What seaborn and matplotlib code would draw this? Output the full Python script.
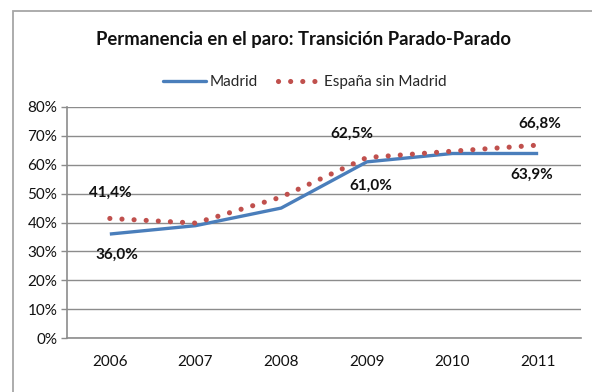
import matplotlib
matplotlib.use("Agg")
import matplotlib.pyplot as plt
from matplotlib.patches import Rectangle
from matplotlib.lines import Line2D
import seaborn as sns
import pandas as pd
import numpy as np

years = ["2006", "2007", "2008", "2009", "2010", "2011"]
madrid = [36.0, 38.9, 45.0, 61.0, 63.9, 63.9]
espana_sin_madrid = [41.4, 39.8, 48.8, 62.5, 64.7, 66.8]
y_ticks = [0, 10, 20, 30, 40, 50, 60, 70, 80]

# labelled points: index -> text offset in px
madrid_labels = {0: (7, -21), 3: (4, -24), 5: (-6, -21)}
espana_labels = {0: (0, 26), 3: (-15, 24), 5: (2, 21)}

sns.set_theme(style="white")
plt.rcParams["font.family"] = ["Lato", "DejaVu Sans"]

BLUE = "#4A7EBB"
RED = "#C0504D"
GRID = "#8C8C8C"
TXT = "#111111"

df = pd.DataFrame({
    "pos": np.arange(len(years)),
    "Madrid": madrid,
    "España sin Madrid": espana_sin_madrid,
})

fig = plt.figure(figsize=(5.92, 3.92), dpi=100)
W, H = 592, 392
ax = fig.add_axes([67 / W, (H - 338) / H, (581 - 67) / W, (338 - 107) / H])

sns.lineplot(data=df, x="pos", y="Madrid", ax=ax, color=BLUE, linewidth=2.4,
             solid_capstyle="butt", zorder=3)
sns.lineplot(data=df, x="pos", y="España sin Madrid", ax=ax, color=RED,
             linewidth=3.7, linestyle=(0, (0.01, 2.35)), dash_capstyle="round",
             zorder=4)

ax.set_xlim(-0.5, len(years) - 0.5)
ax.set_ylim(0, 80)
ax.set_yticks(y_ticks)
ax.set_yticklabels([f"{v}%" for v in y_ticks], fontsize=11, color=TXT)
ax.set_xticks(np.arange(-0.5, len(years), 1.0))
ax.set_xticklabels([])
ax.set_xticks(np.arange(len(years)), minor=True)
ax.set_xticklabels(years, minor=True, fontsize=11, color=TXT)
ax.tick_params(axis="x", which="major", length=4, width=1, color=GRID, direction="out")
ax.tick_params(axis="x", which="minor", length=0, pad=12)
ax.tick_params(axis="y", length=4, width=1, color=GRID, direction="out", pad=3, left=True)
ax.set_xlabel("")
ax.set_ylabel("")

ax.grid(axis="y", color=GRID, linewidth=1)
ax.set_axisbelow(True)
for s in ["top", "right"]:
    ax.spines[s].set_visible(False)
for s in ["left", "bottom"]:
    ax.spines[s].set_color(GRID)
    ax.spines[s].set_linewidth(1.2)

for i, (dx, dy) in madrid_labels.items():
    ax.annotate(f"{madrid[i]:.1f}%".replace(".", ","), (i, madrid[i]),
                xytext=(dx, dy), textcoords="offset pixels", ha="center", va="center",
                fontsize=11, fontweight="bold", color=TXT)
for i, (dx, dy) in espana_labels.items():
    ax.annotate(f"{espana_sin_madrid[i]:.1f}%".replace(".", ","), (i, espana_sin_madrid[i]),
                xytext=(dx, dy), textcoords="offset pixels", ha="center", va="center",
                fontsize=11, fontweight="bold", color=TXT)

# outer chart frame
fig.patches.append(Rectangle((13 / W, -0.1), 1.2, (H - 11) / H + 0.1,
                             transform=fig.transFigure, fill=False,
                             edgecolor="#A6A6A6", linewidth=1.3))

fig.text(303 / W, (H - 40) / H, "Permanencia en el paro: Transición Parado-Parado",
         ha="center", va="center", fontsize=13.3, fontweight="bold", color=TXT)

handles = [
    Line2D([], [], color=BLUE, linewidth=2.4),
    Line2D([], [], color=RED, linewidth=3.7, linestyle=(0, (0.01, 2.35)),
           dash_capstyle="round"),
]
fig.legend(handles, ["Madrid", "España sin Madrid"], loc="center",
           bbox_to_anchor=(305 / W, (H - 82) / H), ncol=2, frameon=False,
           fontsize=11, handlelength=2.8, handletextpad=0.25, columnspacing=1.3)

fig.savefig("out.png", dpi=100)
